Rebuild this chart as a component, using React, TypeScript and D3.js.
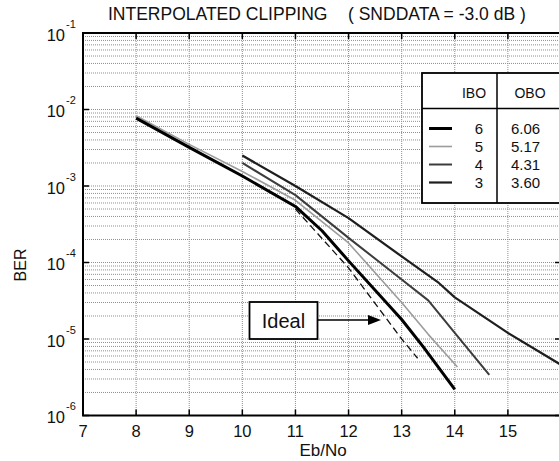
import React, { useRef, useEffect } from 'react';
import * as d3 from 'd3';

// Eb/No (dB) vs BER for each IBO setting
const ibo6X = [8, 9, 10, 11, 11.5, 12, 13, 13.4, 14];
const ibo6Y = [7.7e-3, 3.2e-3, 1.35e-3, 5.4e-4, 2.6e-4, 1.05e-4, 1.8e-5, 8e-6, 2.2e-6];
const ibo5X = [8, 9, 10, 11, 12, 13, 13.5, 14.05];
const ibo5Y = [8.3e-3, 3.5e-3, 1.55e-3, 6.5e-4, 1.8e-4, 3.0e-5, 1.15e-5, 4.3e-6];
const ibo4X = [10, 11, 12, 13, 13.5, 14, 14.65];
const ibo4Y = [2.0e-3, 7.6e-4, 2.1e-4, 6.0e-5, 3.2e-5, 1.2e-5, 3.4e-6];
const ibo3X = [10, 11, 12, 13, 13.7, 14, 15, 16];
const ibo3Y = [2.5e-3, 1.0e-3, 3.8e-4, 1.2e-4, 5.4e-5, 3.5e-5, 1.2e-5, 4.6e-6];
const idealX = [11, 12, 13, 13.3];
const idealY = [5.0e-4, 8.5e-5, 1.0e-5, 5.6e-6];

const xTicks = [7, 8, 9, 10, 11, 12, 13, 14, 15, 16];
const xTickLabels = ['7', '8', '9', '10', '11', '12', '13', '14', '15'];
const yExps = [-1, -2, -3, -4, -5, -6];
const iboLabels = ['6', '5', '4', '3'];
const oboLabels = ['6.06', '5.17', '4.31', '3.60'];

const FONT = '"Liberation Sans", Arial, Helvetica, sans-serif';

const App = () => {
  const ref = useRef<SVGSVGElement>(null);

  useEffect(() => {
    const svg = d3.select(ref.current);
    svg.selectAll('*').remove();

    const left = 83, right = 561, top = 33, bottom = 415.5;
    const x = d3.scaleLinear().domain([7, 16]).range([left, right]);
    const y = d3.scaleLog().domain([1e-6, 1e-1]).range([bottom, top]);

    svg.append('rect').attr('width', 559).attr('height', 461).attr('fill', '#fff');

    // grid
    const grid = svg.append('g').attr('stroke', '#8f8f8f').attr('stroke-width', 1)
      .attr('stroke-dasharray', '1,1');
    xTicks.slice(1, -1).forEach(v => {
      grid.append('line').attr('x1', x(v)).attr('x2', x(v)).attr('y1', top).attr('y2', bottom);
    });
    for (let e = -6; e < -1; e++) {
      for (let m = 1; m <= 9; m++) {
        const val = m * Math.pow(10, e);
        if (e === -6 && m === 1) continue;
        grid.append('line').attr('x1', left).attr('x2', right)
          .attr('y1', y(val)).attr('y2', y(val));
      }
    }

    // frame and ticks
    svg.append('rect').attr('x', left).attr('y', top).attr('width', right - left)
      .attr('height', bottom - top).attr('fill', 'none').attr('stroke', '#000').attr('stroke-width', 2);
    xTicks.forEach(v => {
      svg.append('line').attr('x1', x(v)).attr('x2', x(v)).attr('y1', bottom).attr('y2', bottom - 6)
        .attr('stroke', '#000').attr('stroke-width', 1.5);
      svg.append('line').attr('x1', x(v)).attr('x2', x(v)).attr('y1', top).attr('y2', top + 6)
        .attr('stroke', '#000').attr('stroke-width', 1.5);
    });
    xTickLabels.forEach(lab => {
      svg.append('text').attr('x', x(+lab)).attr('y', 437).attr('text-anchor', 'middle')
        .attr('font-family', FONT).attr('font-size', 16.5).attr('fill', '#111').text(lab);
    });
    yExps.forEach(e => {
      const yy = y(Math.pow(10, e));
      svg.append('line').attr('x1', left).attr('x2', left + 6).attr('y1', yy).attr('y2', yy)
        .attr('stroke', '#000').attr('stroke-width', 1.5);
      svg.append('line').attr('x1', right).attr('x2', right - 6).attr('y1', yy).attr('y2', yy)
        .attr('stroke', '#000').attr('stroke-width', 1.5);
      svg.append('text').attr('x', 65).attr('y', yy + 7.5).attr('text-anchor', 'end')
        .attr('font-family', FONT).attr('font-size', 16.5).attr('fill', '#111').text('10');
      svg.append('text').attr('x', 66).attr('y', yy - 5.5)
        .attr('font-family', FONT).attr('font-size', 11).attr('fill', '#111').text(String(e));
    });

    // titles
    svg.append('text').attr('x', 108).attr('y', 20).attr('font-family', FONT).attr('font-size', 17.5)
      .attr('fill', '#111').text('INTERPOLATED CLIPPING');
    svg.append('text').attr('x', 348).attr('y', 20).attr('font-family', FONT).attr('font-size', 17.5)
      .attr('fill', '#111').text('( SNDDATA = -3.0 dB )');
    svg.append('text').attr('x', 323).attr('y', 456).attr('text-anchor', 'middle')
      .attr('font-family', FONT).attr('font-size', 17).attr('fill', '#111').text('Eb/No');
    svg.append('text').attr('transform', 'translate(26,265) rotate(-90)').attr('text-anchor', 'middle')
      .attr('font-family', FONT).attr('font-size', 16).attr('fill', '#111').text('BER');

    // curves
    const line = d3.line<[number, number]>().x(d => x(d[0])).y(d => y(d[1]));
    const series = [
      { xs: ibo3X, ys: ibo3Y, color: '#1e1e1e', width: 2.2, dash: null },
      { xs: ibo4X, ys: ibo4Y, color: '#3c3c3c', width: 2, dash: null },
      { xs: ibo5X, ys: ibo5Y, color: '#9c9c9c', width: 1.6, dash: null },
      { xs: idealX, ys: idealY, color: '#111', width: 1.3, dash: '7,4' },
      { xs: ibo6X, ys: ibo6Y, color: '#000', width: 3, dash: null },
    ];
    series.forEach(s => {
      const pts = s.xs.map((v, i) => [v, s.ys[i]] as [number, number]);
      const p = svg.append('path').attr('d', line(pts)).attr('fill', 'none')
        .attr('stroke', s.color).attr('stroke-width', s.width).attr('stroke-linejoin', 'round');
      if (s.dash) p.attr('stroke-dasharray', s.dash);
    });

    // Ideal label + arrow
    svg.append('rect').attr('x', 249.5).attr('y', 302).attr('width', 68).attr('height', 37)
      .attr('fill', '#fff').attr('stroke', '#000').attr('stroke-width', 1.8);
    svg.append('text').attr('x', 283.5).attr('y', 327.5).attr('text-anchor', 'middle')
      .attr('font-family', FONT).attr('font-size', 20).attr('fill', '#111').text('Ideal');
    svg.append('line').attr('x1', 317.5).attr('x2', 372).attr('y1', 320).attr('y2', 320)
      .attr('stroke', '#000').attr('stroke-width', 1.5);
    svg.append('path').attr('d', 'M381,320 L368,315 L368,325 Z').attr('fill', '#000');

    // legend table
    const lg = svg.append('g');
    lg.append('rect').attr('x', 422).attr('y', 73).attr('width', 160).attr('height', 130)
      .attr('fill', '#fff').attr('stroke', '#000').attr('stroke-width', 1.8);
    lg.append('line').attr('x1', 422).attr('x2', 582).attr('y1', 108.5).attr('y2', 108.5)
      .attr('stroke', '#000').attr('stroke-width', 1.5);
    lg.append('line').attr('x1', 497).attr('x2', 497).attr('y1', 73).attr('y2', 203)
      .attr('stroke', '#000').attr('stroke-width', 1.5);
    lg.append('text').attr('x', 474).attr('y', 97.5).attr('text-anchor', 'middle')
      .attr('font-family', FONT).attr('font-size', 14).attr('fill', '#111').text('IBO');
    lg.append('text').attr('x', 530).attr('y', 97.5).attr('text-anchor', 'middle')
      .attr('font-family', FONT).attr('font-size', 14).attr('fill', '#111').text('OBO');
    const legendStyles = [series[4], series[2], series[1], series[0]];
    iboLabels.forEach((lab, i) => {
      const by = 133.5 + i * 18;
      const st = legendStyles[i];
      lg.append('line').attr('x1', 429).attr('x2', 452).attr('y1', by - 5).attr('y2', by - 5)
        .attr('stroke', st.color).attr('stroke-width', st.width);
      lg.append('text').attr('x', 483).attr('y', by).attr('text-anchor', 'end')
        .attr('font-family', FONT).attr('font-size', 15).attr('fill', '#111').text(lab);
      lg.append('text').attr('x', 511).attr('y', by)
        .attr('font-family', FONT).attr('font-size', 15).attr('fill', '#111').text(oboLabels[i]);
    });
  }, []);

  return (
    <svg ref={ref} width={559} height={461}
      style={{ position: 'absolute', left: 0, top: 0, display: 'block' }} />
  );
};

export default App;
